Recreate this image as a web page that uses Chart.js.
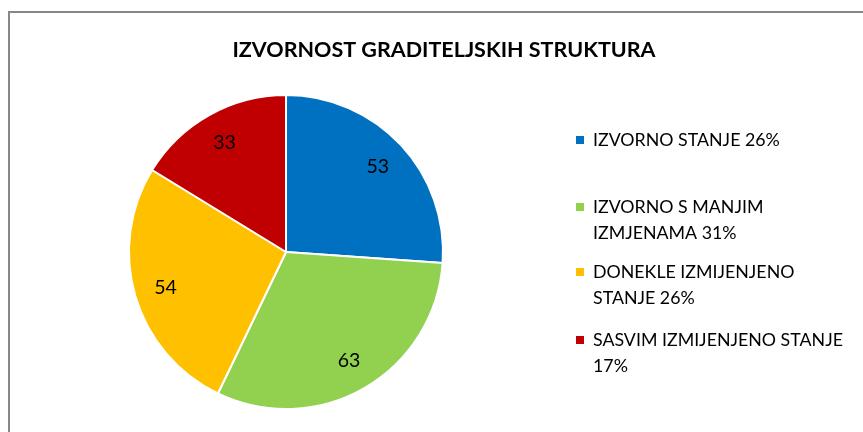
<!DOCTYPE html>
<html>
<head>
<meta charset="utf-8">
<script src="https://cdn.jsdelivr.net/npm/chart.js@4"></script>
<style>
  html, body { margin: 0; padding: 0; background: #fff; }
  #wrap { width: 863px; height: 432px; position: relative; }
</style>
</head>
<body>
<div id="wrap"><canvas id="myChart" width="863" height="432"></canvas></div>
<script>
var title = 'IZVORNOST GRADITELJSKIH STRUKTURA';
var categories = [
  ['IZVORNO STANJE 26%'],
  ['IZVORNO S MANJIM', 'IZMJENAMA 31%'],
  ['DONEKLE IZMIJENJENO', 'STANJE 26%'],
  ['SASVIM IZMIJENJENO STANJE', '17%']
];
var counts = [53, 63, 54, 33];
var colors = ['#0070C0', '#92D050', '#FFC000', '#C00000'];

var fontName = 'Lato, "Open Sans", sans-serif';

// frame, title and side legend drawn straight on the canvas
var decor = {
  id: 'decor',
  beforeDraw: function (chart) {
    var c = chart.ctx;
    c.save();
    c.strokeStyle = '#878787';
    c.lineWidth = 2;
    c.beginPath();
    c.moveTo(9, 440);
    c.lineTo(9, 12);
    c.lineTo(870, 12);
    c.stroke();
    c.restore();
  },
  afterDraw: function (chart) {
    var c = chart.ctx;
    c.save();
    c.fillStyle = '#000';
    c.font = 'bold 21.5px ' + fontName;
    c.textAlign = 'center';
    c.textBaseline = 'middle';
    c.fillText(title, 444, 50);

    var tops = [140, 207, 272, 340];
    c.font = '17.8px ' + fontName;
    c.textAlign = 'left';
    categories.forEach(function (lines, i) {
      c.fillStyle = colors[i];
      c.fillRect(576, tops[i] - 4, 8, 8);
      c.fillStyle = '#000';
      lines.forEach(function (t, j) {
        c.fillText(t, 593, tops[i] + j * 26);
      });
    });

    // value labels inside each slice
    var meta = chart.getDatasetMeta(0);
    c.font = '19.5px ' + fontName;
    c.textAlign = 'center';
    meta.data.forEach(function (arc, i) {
      var p = arc.getProps(['x', 'y', 'startAngle', 'endAngle', 'outerRadius'], true);
      var mid = (p.startAngle + p.endAngle) / 2;
      var r = p.outerRadius * 0.8;
      c.fillText(String(counts[i]), p.x + Math.cos(mid) * r, p.y + Math.sin(mid) * r);
    });
    c.restore();
  }
};

new Chart(document.getElementById('myChart'), {
  type: 'pie',
  data: {
    labels: categories.map(function (l) { return l.join(' '); }),
    datasets: [{
      data: counts,
      backgroundColor: colors,
      borderColor: '#ffffff',
      borderWidth: 2
    }]
  },
  options: {
    responsive: false,
    animation: false,
    layout: { padding: { left: 128, right: 419, top: 94, bottom: 22 } },
    plugins: {
      legend: { display: false },
      title: { display: false },
      tooltip: { enabled: false }
    }
  },
  plugins: [decor]
});
</script>
</body>
</html>
